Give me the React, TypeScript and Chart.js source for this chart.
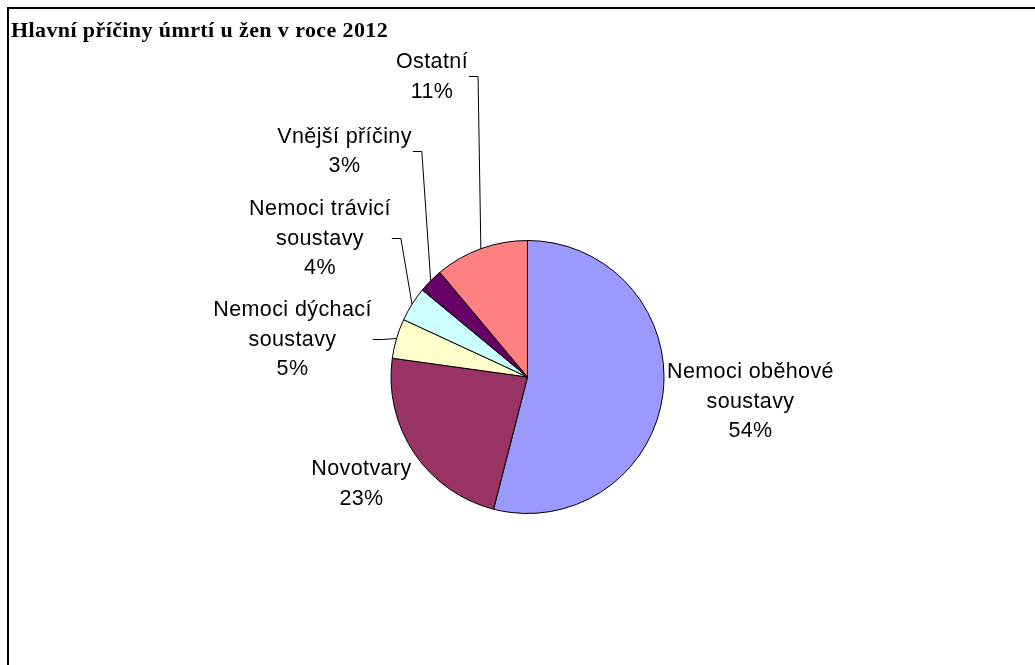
import React, { useEffect, useRef } from "react";
import { Chart, registerables } from "chart.js";

Chart.register(...registerables);

const TITLE = "Hlavní příčiny úmrtí u žen v roce 2012";
const categories = [
  "Nemoci oběhové\nsoustavy",
  "Novotvary",
  "Nemoci dýchací\nsoustavy",
  "Nemoci trávicí\nsoustavy",
  "Vnější příčiny",
  "Ostatní",
];
const values = [54.0, 23.2, 4.7, 4.1, 2.9, 11.1];
const colors = ["#9999FF", "#993366", "#FFFFCC", "#CCFFFF", "#660066", "#FF8080"];

// label layout: offset of the label block's centre x / first baseline from the pie centre
const labelOffsetX = [223, -166, -235, -207.5, -183, -95.5];
const labelOffsetY = [1, 98, -61, -162, -234.3, -309];
const labelLeader = [false, false, true, true, true, true];

const LABEL_FONT = '21.5px "Liberation Sans", Arial, sans-serif';
const LINE_H = 29.5;

const framePlugin = {
  id: "frameTitle",
  beforeDraw(chart: any) {
    const ctx = chart.ctx;
    ctx.save();
    ctx.fillStyle = "#ffffff";
    ctx.fillRect(0, 0, chart.width, chart.height);
    ctx.fillStyle = "#000000";
    ctx.fillRect(7, 7, chart.width, 2);
    ctx.fillRect(7, 7, 2, chart.height);
    ctx.font = 'bold 22px "Liberation Serif", "Times New Roman", serif';
    (ctx as any).letterSpacing = "0.4px";
    ctx.textAlign = "left";
    ctx.textBaseline = "alphabetic";
    ctx.fillText(TITLE, 11, 37);
    ctx.restore();
  },
};

const labelPlugin = {
  id: "pieLabels",
  afterDatasetsDraw(chart: any) {
    const ctx = chart.ctx;
    const meta = chart.getDatasetMeta(0);
    const data = chart.data.datasets[0].data as number[];
    const total = data.reduce((a, b) => a + b, 0);
    ctx.save();
    ctx.font = LABEL_FONT;
    (ctx as any).letterSpacing = "0.4px";
    ctx.fillStyle = "#000000";
    ctx.strokeStyle = "#000000";
    ctx.lineWidth = 1;
    meta.data.forEach((arc: any, i: number) => {
      const p = arc.getProps(["x", "y", "startAngle", "endAngle", "outerRadius"], true);
      const lines = String(chart.data.labels[i]).split("\n");
      lines.push(Math.round((data[i] / total) * 100) + "%");
      const cx = p.x + labelOffsetX[i];
      const by = p.y + labelOffsetY[i];
      ctx.textAlign = "center";
      ctx.textBaseline = "alphabetic";
      let maxW = 0;
      lines.forEach((ln, k) => {
        ctx.fillText(ln, cx, by + k * LINE_H);
        maxW = Math.max(maxW, ctx.measureText(ln).width);
      });
      if (labelLeader[i]) {
        const mid = (p.startAngle + p.endAngle) / 2;
        const ex = p.x + Math.cos(mid) * p.outerRadius;
        const ey = p.y + Math.sin(mid) * p.outerRadius;
        const top = by - 15;
        const bottom = by + (lines.length - 1) * LINE_H;
        const my = Math.round((top + bottom) / 2 + 1) + 0.5;
        const x0 = cx + maxW / 2 + 1;
        ctx.beginPath();
        ctx.moveTo(x0, my);
        ctx.lineTo(x0 + 9, my);
        ctx.lineTo(ex, ey);
        ctx.stroke();
      }
    });
    ctx.restore();
  },
};

export default function App() {
  const ref = useRef<HTMLCanvasElement>(null);
  useEffect(() => {
    if (!ref.current) return;
    const chart = new Chart(ref.current, {
      type: "pie",
      data: {
        labels: categories,
        datasets: [
          {
            data: values,
            backgroundColor: colors,
            borderColor: "#000000",
            borderWidth: 1,
          },
        ],
      },
      options: {
        responsive: false,
        animation: false,
        layout: { padding: { left: 390.5, right: 370.5, top: 240, bottom: 151 } },
        plugins: {
          legend: { display: false },
          tooltip: { enabled: false },
          title: { display: false },
        },
      },
      plugins: [framePlugin, labelPlugin],
    });
    return () => chart.destroy();
  }, []);
  return (
    <div style={{ position: "fixed", left: 0, top: 0, width: 1035, height: 665 }}>
      <canvas ref={ref} width={1035} height={665} style={{ display: "block" }} />
    </div>
  );
}
